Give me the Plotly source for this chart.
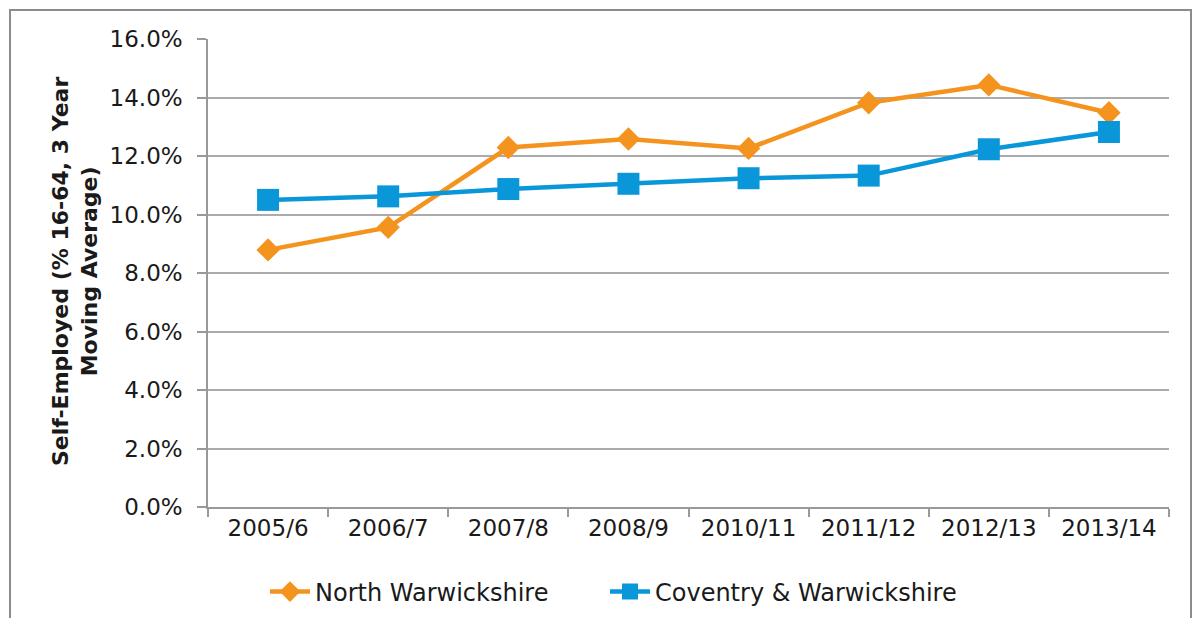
import plotly.graph_objects as go

categories = ["2005/6", "2006/7", "2007/8", "2008/9", "2010/11", "2011/12", "2012/13", "2013/14"]
north_warwickshire = [8.79, 9.56, 12.29, 12.58, 12.26, 13.82, 14.43, 13.48]
coventry_warwickshire = [10.50, 10.62, 10.87, 11.05, 11.24, 11.33, 12.23, 12.82]
y_ticks = [0, 2, 4, 6, 8, 10, 12, 14, 16]
y_tick_labels = [f"{v:.1f}%" for v in y_ticks]

ORANGE = "#F5931F"
BLUE = "#0A97DA"
FONT = "DejaVu Sans"

fig = go.Figure()
fig.add_trace(go.Scatter(
    x=categories, y=north_warwickshire, name="North Warwickshire",
    mode="lines+markers",
    line=dict(color=ORANGE, width=4.5),
    marker=dict(symbol="diamond", size=18, color=ORANGE),
    legend="legend",
))
fig.add_trace(go.Scatter(
    x=categories, y=coventry_warwickshire, name="Coventry & Warwickshire",
    mode="lines+markers",
    line=dict(color=BLUE, width=4.5),
    marker=dict(symbol="square", size=22, color=BLUE),
    legend="legend2",
))

# page has an 8px body margin; work in page pixels and convert
OFF = 8
W, H = 1201 - 2 * OFF, 626 - 2 * OFF
PL, PR, PT, PB = 208, 1169, 39, 507  # plot area in page pixels
L = PL - OFF
T = PT - OFF
R = W - (PR - OFF)
B = H - (PB - OFF)
pw, ph = PR - PL, PB - PT

def px_x(px):
    return (px - PL) / pw

def px_y(py):
    return (PB - py) / ph

legend_common = dict(
    orientation="h", xanchor="left", yanchor="middle",
    font=dict(family=FONT, size=24, color="#1a1a1a"),
    itemwidth=40, bgcolor="rgba(0,0,0,0)",
)

fig.update_layout(
    width=W, height=H,
    margin=dict(l=L, r=R, t=T, b=B, autoexpand=False),
    paper_bgcolor="white", plot_bgcolor="white",
    font=dict(family=FONT, size=23, color="#1a1a1a"),
    showlegend=True,
    legend=dict(x=px_x(265), y=px_y(592), **legend_common),
    legend2=dict(x=px_x(605), y=px_y(592), **legend_common),
    xaxis=dict(
        type="category", range=[-0.5, len(categories) - 0.5],
        showgrid=False, showline=True, linecolor="#999999", linewidth=1.5,
        ticks="outside", tickson="boundaries", ticklen=8, tickcolor="#999999", tickwidth=1.5,
        tickfont=dict(family=FONT, size=23, color="#1a1a1a"),
        fixedrange=True, automargin=False,
    ),
    yaxis=dict(
        range=[0, 16], tickvals=y_ticks, ticktext=y_tick_labels,
        showgrid=True, gridcolor="#ABABAB", gridwidth=1.6,
        showline=True, linecolor="#999999", linewidth=1.5,
        ticks="outside", ticklen=9, tickcolor="#999999", tickwidth=1.5,
        ticklabelstandoff=10,
        tickfont=dict(family=FONT, size=23, color="#1a1a1a"),
        zeroline=False, fixedrange=True, automargin=False,
    ),
    annotations=[dict(
        text="<b>Self-Employed (% 16-64, 3 Year<br>Moving Average)</b>",
        xref="paper", yref="paper", x=px_x(75), y=px_y(272),
        xanchor="center", yanchor="middle", textangle=-90, showarrow=False,
        font=dict(family=FONT, size=22, color="#1a1a1a"),
    )],
    shapes=[dict(
        type="rect", xref="paper", yref="paper",
        x0=px_x(10), x1=px_x(OFF + W - 2), y0=px_y(660), y1=px_y(10),
        line=dict(color="#8c8c8c", width=2), fillcolor="rgba(0,0,0,0)", layer="below",
    )],
)

fig.write_html("out.html")
